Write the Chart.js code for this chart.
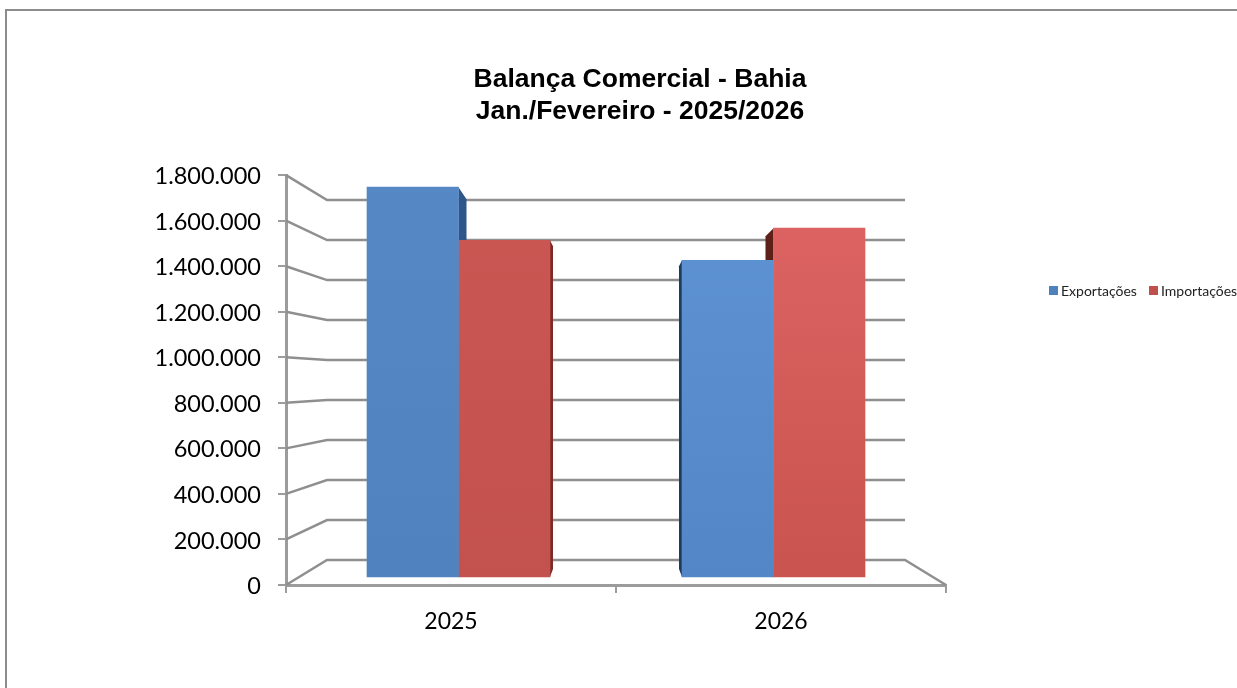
<!DOCTYPE html>
<html>
<head>
<meta charset="utf-8">
<script src="https://cdn.jsdelivr.net/npm/chart.js@4/dist/chart.umd.min.js"></script>
<style>
  html, body { margin: 0; padding: 0; background: #fff; overflow: hidden; }
  #frame { position: absolute; left: 5px; top: 9px; width: 1300px; height: 760px; border: 2px solid #8c8c8c; }
  #wrap { position: absolute; left: 0; top: 0; width: 1237px; height: 688px; }
</style>
</head>
<body>
<div id="frame"></div>
<div id="wrap"><canvas id="balanca"></canvas></div>
<script>
const years = ['2025', '2026'];
const exportacoes = [1747000, 1426000];
const importacoes = [1514000, 1567000];
const yMax = 1800000;
const yStep = 200000;
const barBase = 35000; // the columns float a little above the floor

const gray = '#8f8f8f';
const axisGray = '#9c9c9c';
const chartFont = 'Lato, sans-serif';

// colours per bar: gradient top, gradient bottom, side face
const blues = [['#5688c6', '#4f82bf', '#2f5688'], ['#5f94d4', '#5286c6', '#1d3a5c']];
const reds = [['#cb5753', '#c3514e', '#7c2a28'], ['#de6564', '#c9534f', '#5e1f18']];

function barFill(colours) {
  return function (ctx) {
    const area = ctx.chart.chartArea;
    if (!area) return colours[0][0];
    const g = ctx.chart.ctx.createLinearGradient(0, area.top, 0, area.bottom);
    g.addColorStop(0, colours[ctx.dataIndex][0]);
    g.addColorStop(1, colours[ctx.dataIndex][1]);
    return g;
  };
}

function polygon(ctx, pts, color) {
  ctx.fillStyle = color;
  ctx.beginPath();
  pts.forEach((p, i) => i ? ctx.lineTo(p[0], p[1]) : ctx.moveTo(p[0], p[1]));
  ctx.closePath();
  ctx.fill();
}

// the fake 3D back wall, floor and the side faces of the columns
const wallPlugin = {
  id: 'wall',
  afterLayout(chart) {
    // the title is not centred on the plot in the original
    chart.titleBlock.left += 24;
    chart.titleBlock.right += 24;
  },
  beforeDatasetsDraw(chart) {
    const ctx = chart.ctx;
    const y = chart.scales.y;
    const x = chart.scales.x;
    const zero = y.getPixelForValue(0);
    const depthX = 41;
    ctx.save();
    ctx.strokeStyle = gray;
    ctx.lineWidth = 2.5;
    y.ticks.forEach(t => {
      const py = y.getPixelForValue(t.value);
      const backY = 560 + (py - zero) * 360 / 410;
      ctx.beginPath();
      ctx.moveTo(x.left, py);
      ctx.lineTo(x.left + depthX, backY);
      ctx.lineTo(x.right - depthX, backY);
      if (t.value === 0) ctx.lineTo(x.right, py);
      ctx.stroke();
    });
    // side faces, sit on the outer edge of each pair of columns
    const exp = chart.getDatasetMeta(0).data;
    const imp = chart.getDatasetMeta(1).data;
    const right = exp[0].x + exp[0].width / 2;
    polygon(ctx, [[right, exp[0].y], [right + 8, exp[0].y + 12], [right + 8, imp[0].y], [right, imp[0].y]], blues[0][2]);
    const impRight = imp[0].x + imp[0].width / 2;
    polygon(ctx, [[impRight, imp[0].y], [impRight + 3, imp[0].y + 6], [impRight + 3, imp[0].base - 8], [impRight, imp[0].base]], reds[0][2]);
    const left = exp[1].x - exp[1].width / 2;
    polygon(ctx, [[left, exp[1].y], [left - 3, exp[1].y + 6], [left - 3, exp[1].base - 8], [left, exp[1].base]], blues[1][2]);
    const impLeft = imp[1].x - imp[1].width / 2;
    polygon(ctx, [[impLeft, imp[1].y], [impLeft - 8, imp[1].y + 8], [impLeft - 8, exp[1].y], [impLeft, exp[1].y]], reds[1][2]);
    ctx.restore();
  },
  afterDraw(chart) {
    // legend sits in one row to the right, and runs off the page like the original
    const ctx = chart.ctx;
    const swatchX = [1049, 1149];
    const swatchColor = ['#4f81bd', '#c0504d'];
    ctx.save();
    ctx.font = '14px ' + chartFont;
    ctx.textBaseline = 'middle';
    chart.data.datasets.forEach((ds, i) => {
      ctx.fillStyle = swatchColor[i];
      ctx.fillRect(swatchX[i], 286, 9, 9);
      ctx.fillStyle = '#222';
      ctx.fillText(ds.label, swatchX[i] + 12, 291);
    });
    ctx.restore();
  }
};

new Chart(document.getElementById('balanca'), {
  type: 'bar',
  plugins: [wallPlugin],
  data: {
    labels: years,
    datasets: [
      { label: 'Exportações', data: exportacoes, backgroundColor: barFill(blues), xAxisID: 'xBars', base: barBase },
      { label: 'Importações', data: importacoes, backgroundColor: barFill(reds), xAxisID: 'xBars', base: barBase }
    ]
  },
  options: {
    responsive: true,
    maintainAspectRatio: false,
    animation: false,
    datasets: { bar: { barThickness: 91.5, borderWidth: 0 } },
    layout: { autoPadding: false, padding: { left: 100, right: 291, top: 64, bottom: 53 } },
    plugins: {
      legend: { display: false },
      tooltip: { enabled: false },
      title: {
        display: true,
        fullSize: false,
        text: ['Balança Comercial - Bahia', 'Jan./Fevereiro - 2025/2026'],
        color: '#000',
        font: { family: '"Liberation Sans", Arial, sans-serif', size: 26.5, weight: 'bold', lineHeight: 1.21 },
        padding: { top: 0, bottom: 47 }
      }
    },
    scales: {
      x: {
        type: 'category',
        offset: true,
        afterFit: s => { s.height = 50; },
        grid: { offset: true, drawOnChartArea: false, color: axisGray, tickLength: 8, lineWidth: 2 },
        border: { color: axisGray, width: 3 },
        ticks: { color: '#000', font: { family: chartFont, size: 23 }, padding: 15 }
      },
      // hidden axis so the column pairs sit closer together than the printed labels, as in the 3D view
      xBars: {
        type: 'linear',
        display: false,
        offset: false,
        min: 2025 - 172.5 / 315,
        max: 2026 + 172.5 / 315
      },
      y: {
        min: 0,
        max: yMax,
        afterFit: s => { s.width = 186; },
        grid: { drawOnChartArea: false, color: axisGray, tickLength: 8, lineWidth: 2 },
        border: { color: axisGray, width: 3 },
        ticks: {
          stepSize: yStep,
          color: '#000',
          padding: 17,
          labelOffset: 1.5,
          font: { family: chartFont, size: 23.5 },
          callback: v => String(v).replace(/\B(?=(\d{3})+$)/g, '.')
        }
      }
    }
  }
});
</script>
</body>
</html>
